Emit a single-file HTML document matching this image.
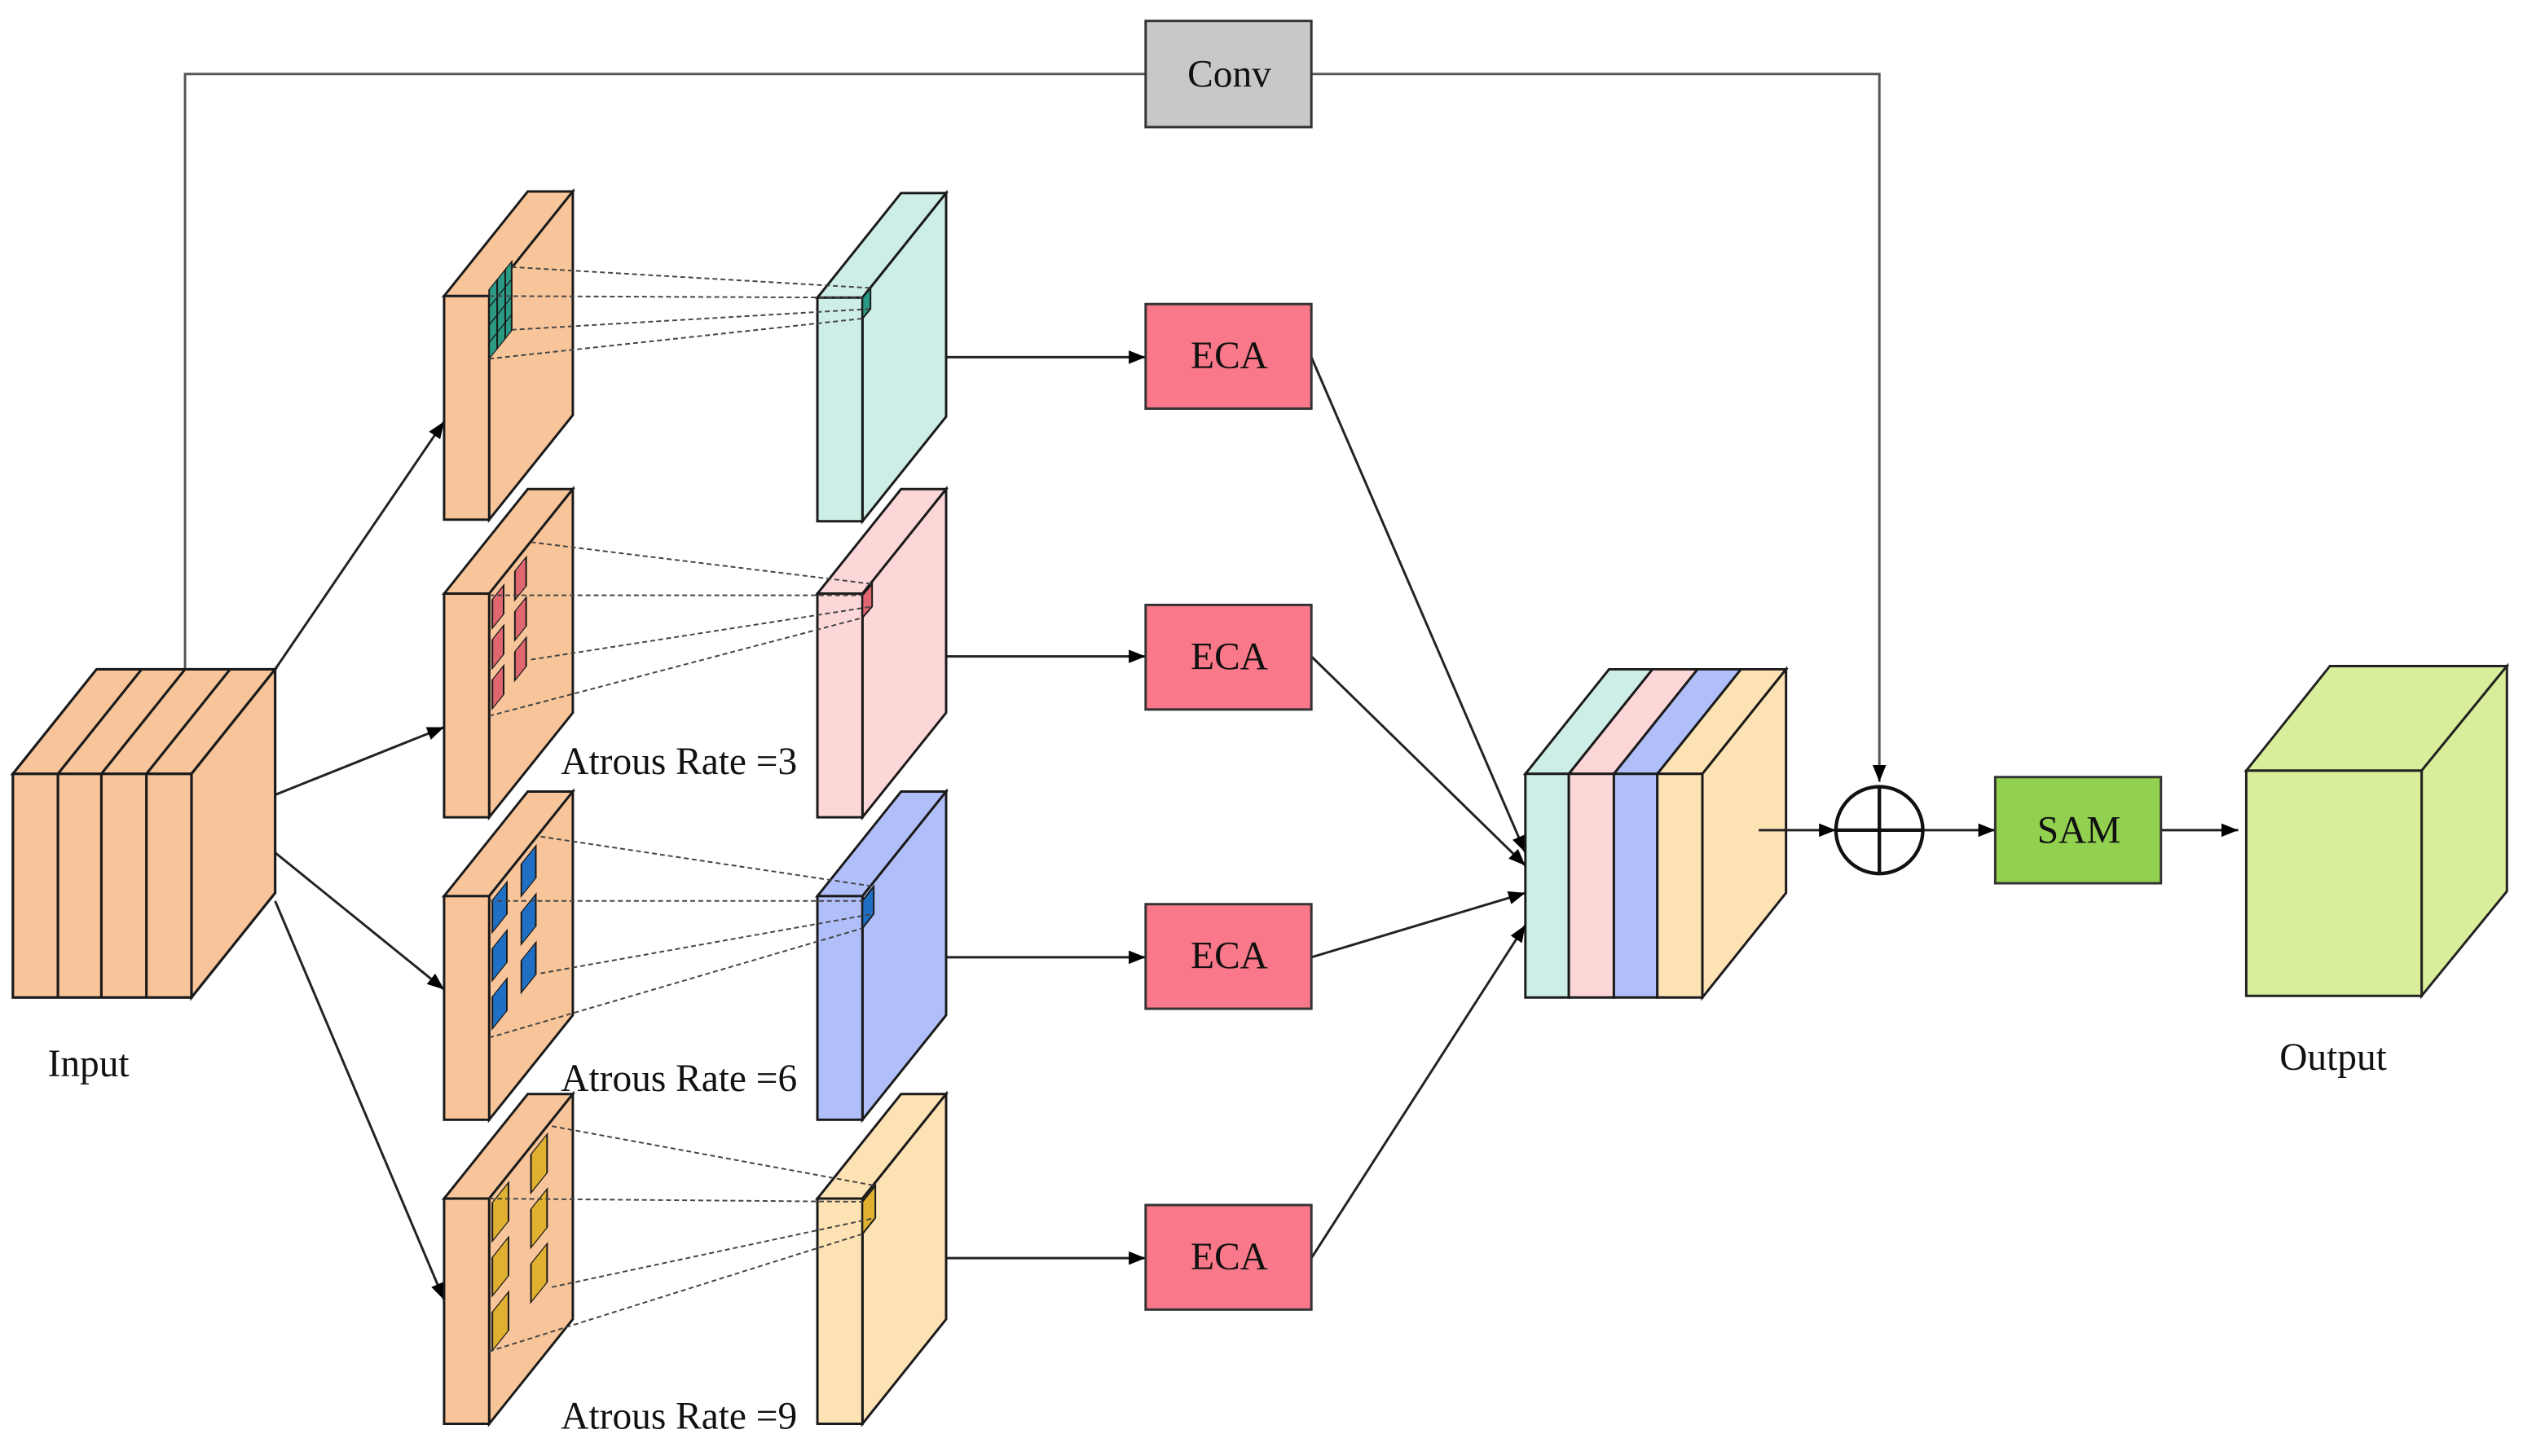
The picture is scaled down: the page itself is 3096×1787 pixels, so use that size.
<!DOCTYPE html>
<html><head><meta charset="utf-8"><style>html,body{margin:0;padding:0;background:#fff}svg{display:block}</style></head>
<body>
<svg width="3096" height="1787" viewBox="0 0 1568 905" preserveAspectRatio="none" xmlns="http://www.w3.org/2000/svg" font-family="'Liberation Serif',serif">
<defs><marker id="a" viewBox="0 0 10 10" refX="10" refY="5" markerWidth="7" markerHeight="7" orient="auto"><path d="M0,1 L10,5 L0,9 z" fill="#000"/></marker></defs>
<g stroke="#222" stroke-width="1.5" fill="none">
<polyline points="115,416 115,46 712,46" stroke="#555"/>
<polyline points="815,46 1168,46 1168,486" stroke="#555" marker-end="url(#a)"/>
<line x1="171" y1="416" x2="276" y2="262" marker-end="url(#a)"/>
<line x1="171" y1="494" x2="276" y2="452" marker-end="url(#a)"/>
<line x1="171" y1="530" x2="276" y2="615" marker-end="url(#a)"/>
<line x1="171" y1="560" x2="276" y2="808" marker-end="url(#a)"/>
<line x1="580" y1="222" x2="712" y2="222" marker-end="url(#a)"/>
<line x1="580" y1="408" x2="712" y2="408" marker-end="url(#a)"/>
<line x1="580" y1="595" x2="712" y2="595" marker-end="url(#a)"/>
<line x1="580" y1="782" x2="712" y2="782" marker-end="url(#a)"/>
<line x1="815" y1="222" x2="948" y2="530" marker-end="url(#a)"/>
<line x1="815" y1="408" x2="948" y2="538" marker-end="url(#a)"/>
<line x1="815" y1="595" x2="948" y2="555" marker-end="url(#a)"/>
<line x1="815" y1="782" x2="948" y2="575" marker-end="url(#a)"/>
<line x1="1195" y1="516" x2="1240" y2="516" marker-end="url(#a)"/>
<line x1="1343" y1="516" x2="1391" y2="516" marker-end="url(#a)"/>
</g>
<g stroke="#1a1a1a" stroke-width="1.6" fill="#f8c59a">
<polygon points="8,481 60,416 171,416 119,481"/>
<polygon points="119,481 171,416 171,555 119,620"/>
<rect x="8" y="481" width="111" height="139"/>
<line x1="36" y1="481" x2="36" y2="620"/><line x1="63" y1="481" x2="63" y2="620"/><line x1="91" y1="481" x2="91" y2="620"/>
<line x1="36" y1="481" x2="88" y2="416"/><line x1="63" y1="481" x2="115" y2="416"/><line x1="91" y1="481" x2="143" y2="416"/>
</g>
<g stroke="#1a1a1a" stroke-width="1.5">
<g fill="#f8c59a">
<polygon points="276,184 328,119 356,119 304,184"/><polygon points="304,184 356,119 356,258 304,323"/><rect x="276" y="184" width="28" height="139"/>
<polygon points="276,369 328,304 356,304 304,369"/><polygon points="304,369 356,304 356,443 304,508"/><rect x="276" y="369" width="28" height="139"/>
<polygon points="276,557 328,492 356,492 304,557"/><polygon points="304,557 356,492 356,631 304,696"/><rect x="276" y="557" width="28" height="139"/>
<polygon points="276,745 328,680 356,680 304,745"/><polygon points="304,745 356,680 356,820 304,885"/><rect x="276" y="745" width="28" height="140"/>
</g>
<g fill="#cdeee6"><polygon points="508,185 560,120 588,120 536,185"/><polygon points="536,185 588,120 588,259 536,324"/><rect x="508" y="185" width="28" height="139"/></g>
<g fill="#fdd7d7"><polygon points="508,369 560,304 588,304 536,369"/><polygon points="536,369 588,304 588,443 536,508"/><rect x="508" y="369" width="28" height="139"/></g>
<g fill="#b0bff9"><polygon points="508,557 560,492 588,492 536,557"/><polygon points="536,557 588,492 588,631 536,696"/><rect x="508" y="557" width="28" height="139"/></g>
<g fill="#fde2b4"><polygon points="508,745 560,680 588,680 536,745"/><polygon points="536,745 588,680 588,820 536,885"/><rect x="508" y="745" width="28" height="140"/></g>
</g>
<g stroke="#1a1a1a" stroke-width="1">
<g transform="translate(304,0) skewY(-51.34)" fill="#2a9a84">
<rect x="0" y="180" width="5" height="11"/><rect x="5" y="180" width="5" height="11"/><rect x="10" y="180" width="4" height="11"/>
<rect x="0" y="191" width="5" height="11"/><rect x="5" y="191" width="5" height="11"/><rect x="10" y="191" width="4" height="11"/>
<rect x="0" y="202" width="5" height="11"/><rect x="5" y="202" width="5" height="11"/><rect x="10" y="202" width="4" height="11"/>
<rect x="0" y="213" width="5" height="10"/><rect x="5" y="213" width="5" height="10"/><rect x="10" y="213" width="4" height="10"/>
</g>
<g transform="translate(304,0) skewY(-51.34)" fill="#e06670">
<rect x="2" y="375" width="7" height="18"/><rect x="16" y="375" width="7" height="18"/>
<rect x="2" y="400" width="7" height="18"/><rect x="16" y="400" width="7" height="18"/>
<rect x="2" y="425" width="7" height="18"/><rect x="16" y="425" width="7" height="18"/>
</g>
<g transform="translate(304,0) skewY(-51.34)" fill="#1f6fc4">
<rect x="2" y="562" width="9" height="20"/><rect x="20" y="562" width="9" height="20"/>
<rect x="2" y="592" width="9" height="20"/><rect x="20" y="592" width="9" height="20"/>
<rect x="2" y="622" width="9" height="20"/><rect x="20" y="622" width="9" height="20"/>
</g>
<g transform="translate(304,0) skewY(-51.34)" fill="#e0b030">
<rect x="2" y="750" width="10" height="24"/><rect x="26" y="750" width="10" height="24"/>
<rect x="2" y="784" width="10" height="24"/><rect x="26" y="784" width="10" height="24"/>
<rect x="2" y="818" width="10" height="24"/><rect x="26" y="818" width="10" height="24"/>
</g>
<polygon points="536,185 541,179 541,192 536,198" fill="#2a9a84"/>
<polygon points="536,370 542,363 542,377 536,384" fill="#e06670"/>
<polygon points="536,560 543,551 543,568 536,577" fill="#1f6fc4"/>
<polygon points="536,747 544,737 544,757 536,767" fill="#e0b030"/>
</g>
<g stroke="#444" stroke-width="1" stroke-dasharray="3,2" fill="none">
<line x1="318" y1="166" x2="541" y2="179"/><line x1="304" y1="184" x2="536" y2="185"/><line x1="318" y1="205" x2="541" y2="192"/><line x1="304" y1="223" x2="536" y2="198"/>
<line x1="330" y1="337" x2="542" y2="363"/><line x1="304" y1="370" x2="536" y2="370"/><line x1="330" y1="410" x2="542" y2="377"/><line x1="304" y1="445" x2="536" y2="384"/>
<line x1="336" y1="520" x2="543" y2="551"/><line x1="304" y1="560" x2="536" y2="560"/><line x1="336" y1="605" x2="543" y2="568"/><line x1="304" y1="645" x2="536" y2="577"/>
<line x1="343" y1="700" x2="544" y2="737"/><line x1="304" y1="745" x2="536" y2="747"/><line x1="343" y1="800" x2="544" y2="757"/><line x1="304" y1="840" x2="536" y2="767"/>
</g>
<g stroke="#333" stroke-width="1.5">
<rect x="712" y="13" width="103" height="66" fill="#c8c8c8"/>
<rect x="712" y="189" width="103" height="65" fill="#f9788a"/>
<rect x="712" y="376" width="103" height="65" fill="#f9788a"/>
<rect x="712" y="562" width="103" height="65" fill="#f9788a"/>
<rect x="712" y="749" width="103" height="65" fill="#f9788a"/>
<rect x="1240" y="483" width="103" height="66" fill="#92d050"/>
</g>
<g font-size="24" text-anchor="middle" fill="#111">
<text x="764" y="54">Conv</text>
<text x="764" y="229">ECA</text><text x="764" y="416">ECA</text><text x="764" y="602">ECA</text><text x="764" y="789">ECA</text>
<text x="1292" y="524">SAM</text>
</g>
<g stroke="#1a1a1a" stroke-width="1.5">
<polygon points="948,481 1000,416 1027,416 975,481" fill="#cdeee6"/>
<polygon points="975,481 1027,416 1055,416 1003,481" fill="#fdd7d7"/>
<polygon points="1003,481 1055,416 1082,416 1030,481" fill="#b0bff9"/>
<polygon points="1030,481 1082,416 1110,416 1058,481" fill="#fde2b4"/>
<polygon points="1058,481 1110,416 1110,555 1058,620" fill="#fde2b4"/>
<rect x="948" y="481" width="27" height="139" fill="#cdeee6"/>
<rect x="975" y="481" width="28" height="139" fill="#fdd7d7"/>
<rect x="1003" y="481" width="27" height="139" fill="#b0bff9"/>
<rect x="1030" y="481" width="28" height="139" fill="#fde2b4"/>
</g>
<line x1="1093" y1="516" x2="1141" y2="516" stroke="#222" stroke-width="1.5" marker-end="url(#a)"/>
<g stroke="#111" stroke-width="2.2" fill="#fff">
<circle cx="1168" cy="516" r="27"/><line x1="1141" y1="516" x2="1195" y2="516"/><line x1="1168" y1="489" x2="1168" y2="543"/>
</g>
<g stroke="#222" stroke-width="1.5" fill="#d9ee9a">
<polygon points="1396,479 1448,414 1558,414 1505,479"/>
<polygon points="1505,479 1558,414 1558,554 1505,619"/>
<rect x="1396" y="479" width="109" height="140"/>
</g>
<g font-size="24" fill="#111" text-anchor="middle">
<text x="55" y="669">Input</text>
<text x="1450" y="665">Output</text>
<text x="422" y="481">Atrous Rate =3</text>
<text x="422" y="678">Atrous Rate =6</text>
<text x="422" y="888">Atrous Rate =9</text>
</g>
</svg>
</body></html>
